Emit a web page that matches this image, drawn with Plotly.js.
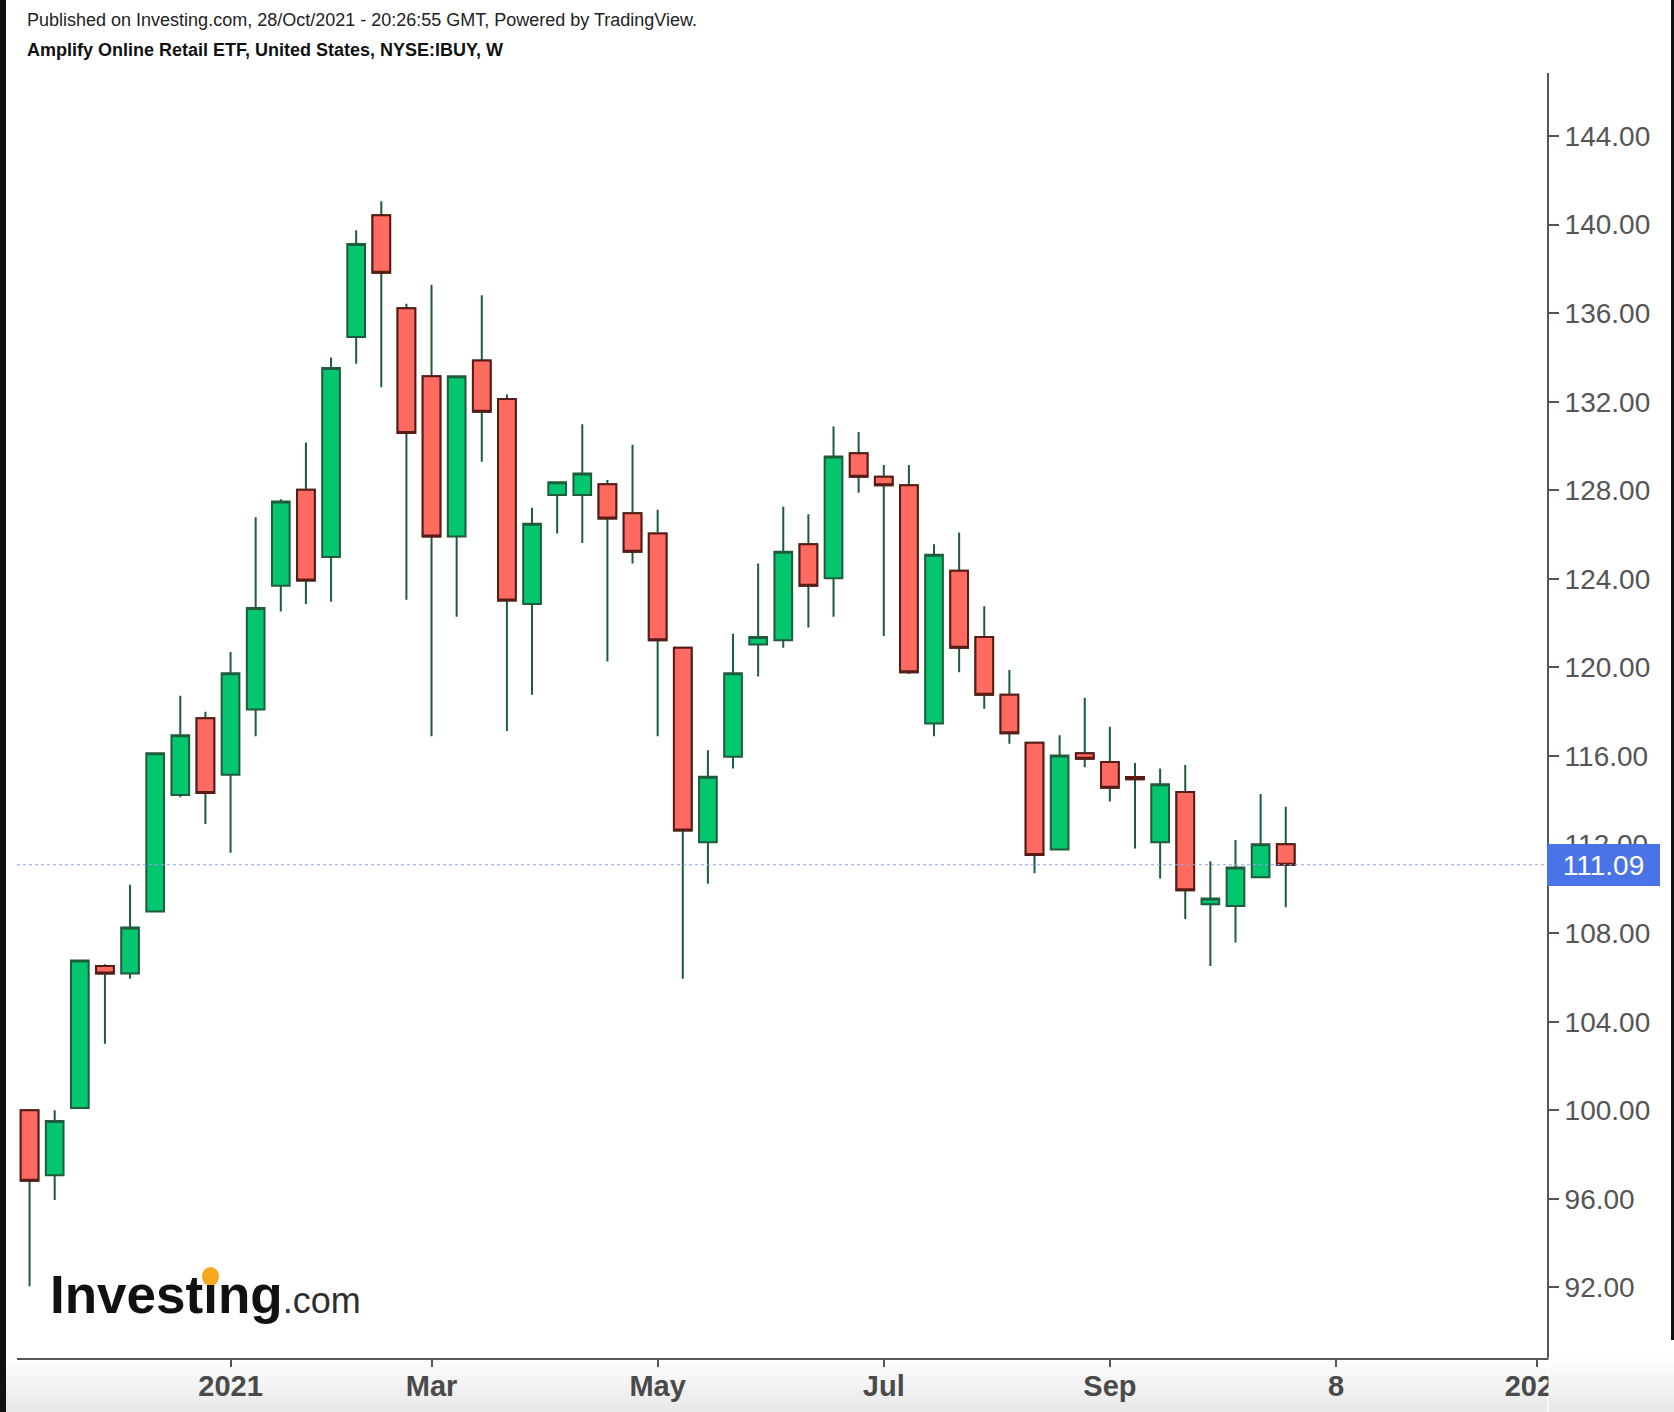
<!DOCTYPE html>
<html>
<head>
<meta charset="utf-8">
<script src="https://cdn.plot.ly/plotly-3.0.1.min.js"></script>
<style>
html, body { margin: 0; padding: 0; background: #ffffff; }
#chart { width: 1674px; height: 1412px; }
</style>
</head>
<body>
<div id="chart"></div>
<script>
// ---- data (weekly bars, NYSE:IBUY) ----
const weeks = [
  '2020-11-09','2020-11-16','2020-11-23','2020-11-30','2020-12-07','2020-12-14','2020-12-21','2020-12-28',
  '2021-01-04','2021-01-11','2021-01-18','2021-01-25','2021-02-01','2021-02-08','2021-02-15','2021-02-22',
  '2021-03-01','2021-03-08','2021-03-15','2021-03-22','2021-03-29','2021-04-05','2021-04-12','2021-04-19',
  '2021-04-26','2021-05-03','2021-05-10','2021-05-17','2021-05-24','2021-05-31','2021-06-07','2021-06-14',
  '2021-06-21','2021-06-28','2021-07-05','2021-07-12','2021-07-19','2021-07-26','2021-08-02','2021-08-09',
  '2021-08-16','2021-08-23','2021-08-30','2021-09-06','2021-09-13','2021-09-20','2021-09-27','2021-10-04',
  '2021-10-11','2021-10-18','2021-10-25'
];
const openPrices = [
  100.00, 97.06, 100.10, 106.52, 106.18, 108.98, 114.24, 117.71, 115.15, 118.10,
  123.69, 128.03, 124.99, 134.93, 140.43, 136.23, 133.15, 125.91, 133.87, 132.13,
  122.87, 127.79, 127.79, 128.27, 126.97, 126.05, 120.89, 112.11, 115.97, 121.04,
  121.23, 125.57, 124.03, 129.67, 128.61, 128.23, 117.47, 124.37, 121.38, 118.77,
  116.60, 111.78, 116.12, 115.73, 115.05, 112.11, 114.38, 109.31, 109.22, 110.52,
  112.02
];
const highPrices = [
  100.00, 100.00, 106.80, 106.60, 110.18, 116.17, 118.72, 118.00, 120.70, 126.78,
  127.60, 130.16, 134.00, 139.75, 141.06, 136.43, 137.29, 133.15, 136.81, 132.33,
  127.21, 128.40, 130.98, 128.47, 130.06, 127.12, 120.90, 116.26, 121.52, 124.70,
  127.26, 126.92, 130.88, 130.64, 129.14, 129.14, 125.57, 126.10, 122.77, 119.88,
  116.60, 116.94, 118.63, 117.32, 115.68, 115.44, 115.59, 111.25, 112.21, 114.28,
  113.71
];
const lowPrices = [
  92.05, 95.95, 100.10, 103.00, 105.94, 108.98, 114.14, 112.93, 111.63, 116.89,
  122.53, 122.87, 122.97, 133.72, 132.66, 123.06, 116.89, 122.29, 129.29, 117.13,
  118.77, 126.05, 125.62, 120.27, 124.70, 116.89, 105.94, 110.23, 115.44, 119.59,
  120.89, 121.81, 122.29, 127.89, 121.42, 119.70, 116.89, 119.78, 118.14, 116.55,
  110.71, 111.78, 115.49, 113.95, 111.82, 110.47, 108.64, 106.52, 107.58, 110.52,
  109.17
];
const closePrices = [
  96.82, 99.52, 106.76, 106.18, 108.25, 116.12, 116.94, 114.33, 119.74, 122.68,
  127.50, 123.93, 133.53, 139.13, 137.83, 130.59, 125.91, 133.15, 131.55, 123.02,
  126.49, 128.37, 128.76, 126.73, 125.23, 121.23, 112.64, 115.06, 119.74, 121.38,
  125.23, 123.69, 129.53, 128.61, 128.23, 119.78, 125.09, 120.89, 118.77, 117.03,
  111.53, 116.02, 115.88, 114.57, 114.95, 114.72, 109.94, 109.56, 110.96, 112.02,
  111.09
];
const lastPrice = 111.09;
const yTickVals = [92, 96, 100, 104, 108, 112, 116, 120, 124, 128, 132, 136, 140, 144];
const xTickVals = ['2021-01-04', '2021-03-01', '2021-05-03', '2021-07-05', '2021-09-06', '2021-11-08', '2022-01-03'];
const xTickText = ['2021', 'Mar', 'May', 'Jul', 'Sep', '8', '2022'];
const headerLine1 = 'Published on Investing.com, 28/Oct/2021 - 20:26:55 GMT, Powered by TradingView.';
const headerLine2 = 'Amplify Online Retail ETF, United States, NYSE:IBUY, W';
const logoMain = 'Investing';
const logoSuffix = '.com';

// ---- styling / geometry helpers ----
const W = 1674, H = 1412;
const PL = 17, PR = 1547, PT = 73, PB = 1358;
const px = x => (x - PL) / (PR - PL);
const py = y => (PB - y) / (PB - PT);

const GREEN = '#03c66e', RED = '#ff6a61', WICK = '#1f5b3d', RED_EDGE = '#5a1a15';
const ORANGE = '#f6a81c';

const allBars = {
  type: 'candlestick',
  x: weeks, open: openPrices, high: highPrices, low: lowPrices, close: closePrices,
  increasing: { line: { color: WICK, width: 2 }, fillcolor: GREEN },
  decreasing: { line: { color: WICK, width: 2 }, fillcolor: RED },
  hoverinfo: 'skip', showlegend: false
};
const redIdx = openPrices.map((o, i) => i).filter(i => closePrices[i] < openPrices[i]);
const redBodies = {
  type: 'candlestick',
  x: redIdx.map(i => weeks[i]),
  open: redIdx.map(i => openPrices[i]),
  high: redIdx.map(i => openPrices[i]),
  low: redIdx.map(i => closePrices[i]),
  close: redIdx.map(i => closePrices[i]),
  increasing: { line: { color: RED_EDGE, width: 2 }, fillcolor: RED },
  decreasing: { line: { color: RED_EDGE, width: 2 }, fillcolor: RED },
  hoverinfo: 'skip', showlegend: false
};

const shapes = [];
// bottom gradient band
const nBands = 18;
const bandTop = PB, bandBot = H;
for (let k = 0; k < nBands; k++) {
  const y0 = bandTop + (bandBot - bandTop) * k / nBands;
  const y1 = bandTop + (bandBot - bandTop) * (k + 1) / nBands;
  const c = Math.round(255 - 24 * (k + 0.5) / nBands);
  const col = `rgb(${c},${c},${c})`;
  shapes.push({ type: 'rect', xref: 'paper', yref: 'paper', x0: px(6), x1: 1, y0: py(y1), y1: py(y0),
    fillcolor: col, line: { width: 0 }, layer: 'below' });
  shapes.push({ type: 'rect', xref: 'paper', yref: 'paper', x0: px(PR + 1.5), x1: px(W), y0: py(y1), y1: py(y0 - 0.5),
    fillcolor: col, line: { width: 0 }, layer: 'above' });
}
// last price dotted line
shapes.push({ type: 'line', xref: 'paper', yref: 'y', x0: 0, x1: 1, y0: lastPrice, y1: lastPrice,
  line: { color: '#8da0f0', width: 1, dash: 'dot' }, layer: 'above' });
// dark frame strips at the page edges
shapes.push({ type: 'rect', xref: 'paper', yref: 'paper', x0: px(0), x1: px(6), y0: py(H), y1: py(0),
  fillcolor: '#111111', line: { width: 0 }, layer: 'above' });
shapes.push({ type: 'rect', xref: 'paper', yref: 'paper', x0: px(1671), x1: px(W), y0: py(1340), y1: py(0),
  fillcolor: '#111111', line: { width: 0 }, layer: 'above' });
// orange dot of the logo's "i"
shapes.push({ type: 'circle', xref: 'paper', yref: 'paper', x0: px(202), x1: px(219), y0: py(1286), y1: py(1267),
  fillcolor: ORANGE, line: { width: 0 }, layer: 'above' });

const annotations = [
  { xref: 'paper', yref: 'paper', x: px(25), y: py(20), xanchor: 'left', yanchor: 'middle',
    text: headerLine1, showarrow: false, font: { size: 18, color: '#222222' } },
  { xref: 'paper', yref: 'paper', x: px(25), y: py(50), xanchor: 'left', yanchor: 'middle',
    text: '<b>' + headerLine2 + '</b>', showarrow: false, font: { size: 18, color: '#111111' } },
  { xref: 'paper', yref: 'paper', x: px(48), y: py(1294), xanchor: 'left', yanchor: 'middle',
    text: '<b>' + logoMain + '</b><span style="font-size:36px;font-weight:normal;color:#2e2e2e">' + logoSuffix + '</span>',
    showarrow: false, font: { size: 53, color: '#111111' } },
  // orange patch covering the black dot of the "i" (drawn over the logo text)
  { xref: 'paper', yref: 'paper', x: px(210.5), y: py(1276.5), xanchor: 'center', yanchor: 'middle',
    text: ' ', showarrow: false, bgcolor: ORANGE, borderpad: 0, borderwidth: 0, width: 12, height: 12,
    font: { size: 6, color: ORANGE } },
  { xref: 'paper', yref: 'y', x: 1, y: lastPrice, xanchor: 'left', yanchor: 'middle',
    text: lastPrice.toFixed(2), showarrow: false, bgcolor: '#4a73e8', bordercolor: '#4a73e8', borderwidth: 1,
    borderpad: 0, width: 111, height: 40, align: 'center', font: { size: 28, color: '#ffffff' } }
];

const layout = {
  width: W, height: H,
  margin: { l: PL, r: W - PR, t: PT, b: H - PB, pad: 0 },
  paper_bgcolor: '#ffffff', plot_bgcolor: '#ffffff',
  font: { family: 'Liberation Sans, Arial, sans-serif', color: '#555555' },
  showlegend: false,
  boxgap: 0.295, boxgroupgap: 0,
  hovermode: false,
  xaxis: {
    type: 'date', range: ['2020-11-05 12:00', '2022-01-05 19:00'],
    rangeslider: { visible: false }, showgrid: false, zeroline: false,
    showline: true, linecolor: '#555555', linewidth: 2,
    ticks: 'outside', ticklen: 7, tickwidth: 2, tickcolor: '#555555',
    tickmode: 'array', tickvals: xTickVals, ticktext: xTickText,
    tickfont: { family: 'Liberation Sans, Arial, sans-serif', size: 29, color: '#4a4a4a', weight: 'bold' },
    ticklabelstandoff: -6, fixedrange: true
  },
  yaxis: {
    side: 'right', range: [88.81, 146.85], showgrid: false, zeroline: false,
    showline: true, linecolor: '#555555', linewidth: 2,
    ticks: 'outside', ticklen: 10, tickwidth: 2, tickcolor: '#555555',
    tickmode: 'array', tickvals: yTickVals, tickformat: '.2f',
    tickfont: { family: 'Liberation Sans, Arial, sans-serif', size: 28, color: '#555555' },
    ticklabelstandoff: 0, fixedrange: true
  },
  shapes: shapes,
  annotations: annotations
};

Plotly.newPlot('chart', [allBars, redBodies], layout, { displayModeBar: false, staticPlot: true });
</script>
</body>
</html>
